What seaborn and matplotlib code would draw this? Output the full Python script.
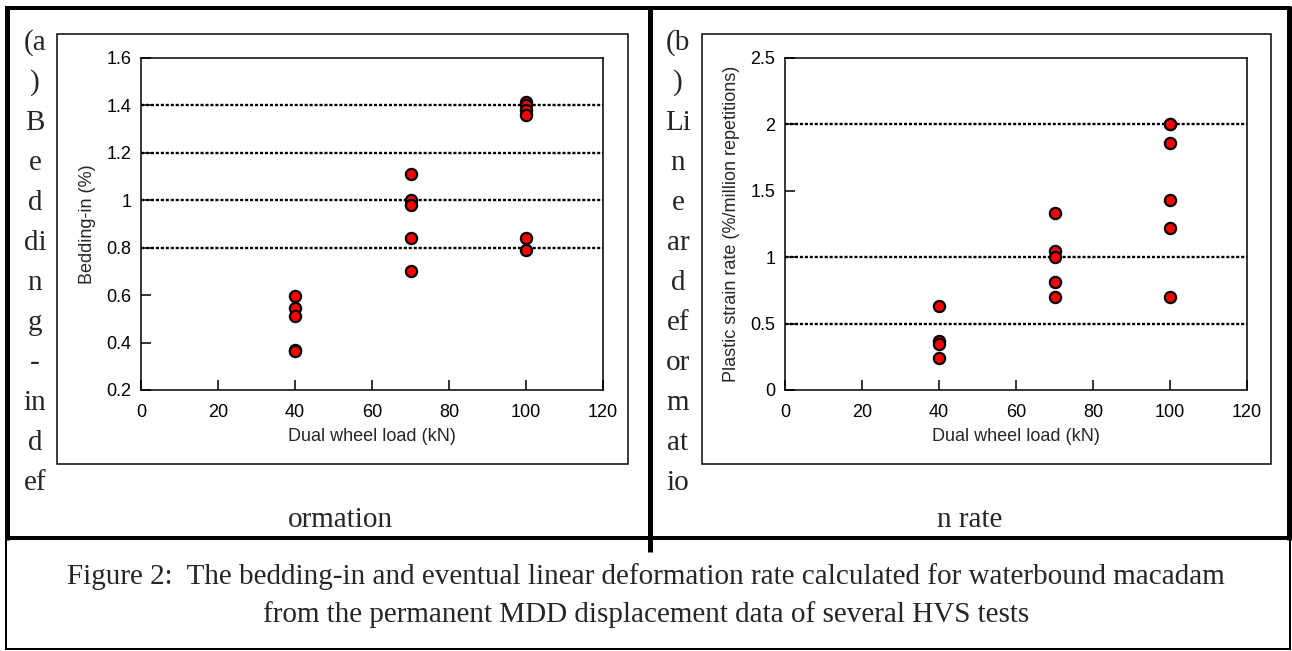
import matplotlib
matplotlib.use("Agg")
import matplotlib.pyplot as plt
from matplotlib.patches import Rectangle
from matplotlib.ticker import FuncFormatter
import seaborn as sns

# panel (a): bedding-in
load_a = [40, 40, 40, 40, 40, 70, 70, 70, 70, 70, 100, 100, 100, 100, 100, 100]
bedding = [0.595, 0.545, 0.51, 0.37, 0.365,
           1.11, 1.0, 0.98, 0.84, 0.70,
           1.415, 1.40, 1.38, 1.36, 0.84, 0.79]
ref_a = [0.8, 1.0, 1.2, 1.4]

# panel (b): plastic strain rate
load_b = [40, 40, 40, 40, 70, 70, 70, 70, 70, 100, 100, 100, 100, 100, 100]
strain = [0.63, 0.37, 0.35, 0.24,
          1.33, 1.05, 1.0, 0.81, 0.70,
          2.0, 2.0, 1.86, 1.43, 1.22, 0.70]
ref_b = [0.5, 1.0, 2.0]

side_a = ["(a", ")", "B", "e", "d", "di", "n", "g", "-", "in", "d", "ef"]
side_b = ["(b", ")", "Li", "n", "e", "ar", "d", "ef", "or", "m", "at", "io"]
caption = ["Figure 2:  The bedding-in and eventual linear deformation rate calculated for waterbound macadam",
           "from the permanent MDD displacement data of several HVS tests"]

W, H = 1292, 651
sns.set_style("ticks")
plt.rcParams['font.family'] = ['Liberation Sans', 'DejaVu Sans']

fig = plt.figure(figsize=(W / 100, H / 100), dpi=100)

# page layer in pixel coordinates
bg = fig.add_axes([0, 0, 1, 1])
bg.set_xlim(0, W)
bg.set_ylim(H, 0)
bg.axis("off")
px = 0.72  # points per pixel

def hline(y, x0, x1, w):
    bg.plot([x0, x1], [y, y], color="black", lw=w * px, solid_capstyle="butt")

def vline(x, y0, y1, w):
    bg.plot([x, x], [y0, y1], color="black", lw=w * px, solid_capstyle="butt")

hline(8, 5, 1291, 4)
vline(7, 6, 540, 5)
vline(1289, 6, 540, 5)
vline(650, 6, 552, 5)
hline(538, 5, 1291, 4)
vline(6, 536, 650, 2)
vline(1290, 536, 650, 2)
hline(649, 5, 1291, 2)

bg.add_patch(Rectangle((57, 34), 571, 430, fill=False, lw=1.5 * px, ec="black"))
bg.add_patch(Rectangle((702, 34), 569, 430, fill=False, lw=1.5 * px, ec="black"))

serif = dict(family="Liberation Serif", fontsize=21, ha="center", va="center")
for i, s in enumerate(side_a):
    bg.text(35, 43 + 40 * i, s, **serif)
for i, s in enumerate(side_b):
    bg.text(678, 43 + 40 * i, s, **serif)
bg.text(340, 520, "ormation", **serif)
bg.text(970, 520, "n rate", **serif)
bg.text(646, 577, caption[0], **serif)
bg.text(646, 615, caption[1], **serif)


def make_axes(left, ymin, ymax, ystep, xs, ys, refs, ylabel, ylab_x):
    ax = fig.add_axes([left / W, (H - 390) / H, 462 / W, 332 / H])
    for r in refs:
        ax.axhline(r, color="black", lw=1.7, ls=(0, (1.3, 0.8)), zorder=1)
    sns.scatterplot(x=xs, y=ys, ax=ax, s=65, color="red", edgecolor="black",
                    linewidth=1.6, zorder=3, legend=False)
    ax.set_xlim(0, 120)
    ax.set_ylim(ymin, ymax)
    ax.set_xticks(range(0, 121, 20))
    n = int(round((ymax - ymin) / ystep))
    ax.set_yticks([ymin + ystep * k for k in range(n + 1)])
    ax.yaxis.set_major_formatter(FuncFormatter(lambda v, p: f"{round(v, 2):g}"))
    for sp in ax.spines.values():
        sp.set_visible(True)
        sp.set_linewidth(1.1)
        sp.set_color("black")
    ax.tick_params(direction="in", length=7, width=1.1, labelsize=13, colors="black")
    ax.tick_params(axis="x", pad=10)
    ax.tick_params(axis="y", pad=7)
    ax.set_xlabel("Dual wheel load (kN)", fontsize=13)
    ax.set_ylabel(ylabel, fontsize=13)
    ax.xaxis.set_label_coords(0.5, -0.115)
    ax.yaxis.set_label_coords((ylab_x - left) / 462, 0.5)
    return ax


make_axes(141, 0.2, 1.6, 0.2, load_a, bedding, ref_a, "Bedding-in (%)", 96)
make_axes(785, 0.0, 2.5, 0.5, load_b, strain, ref_b,
          "Plastic strain rate (%/million repetitions)", 740)

fig.savefig("out.png", dpi=100)
